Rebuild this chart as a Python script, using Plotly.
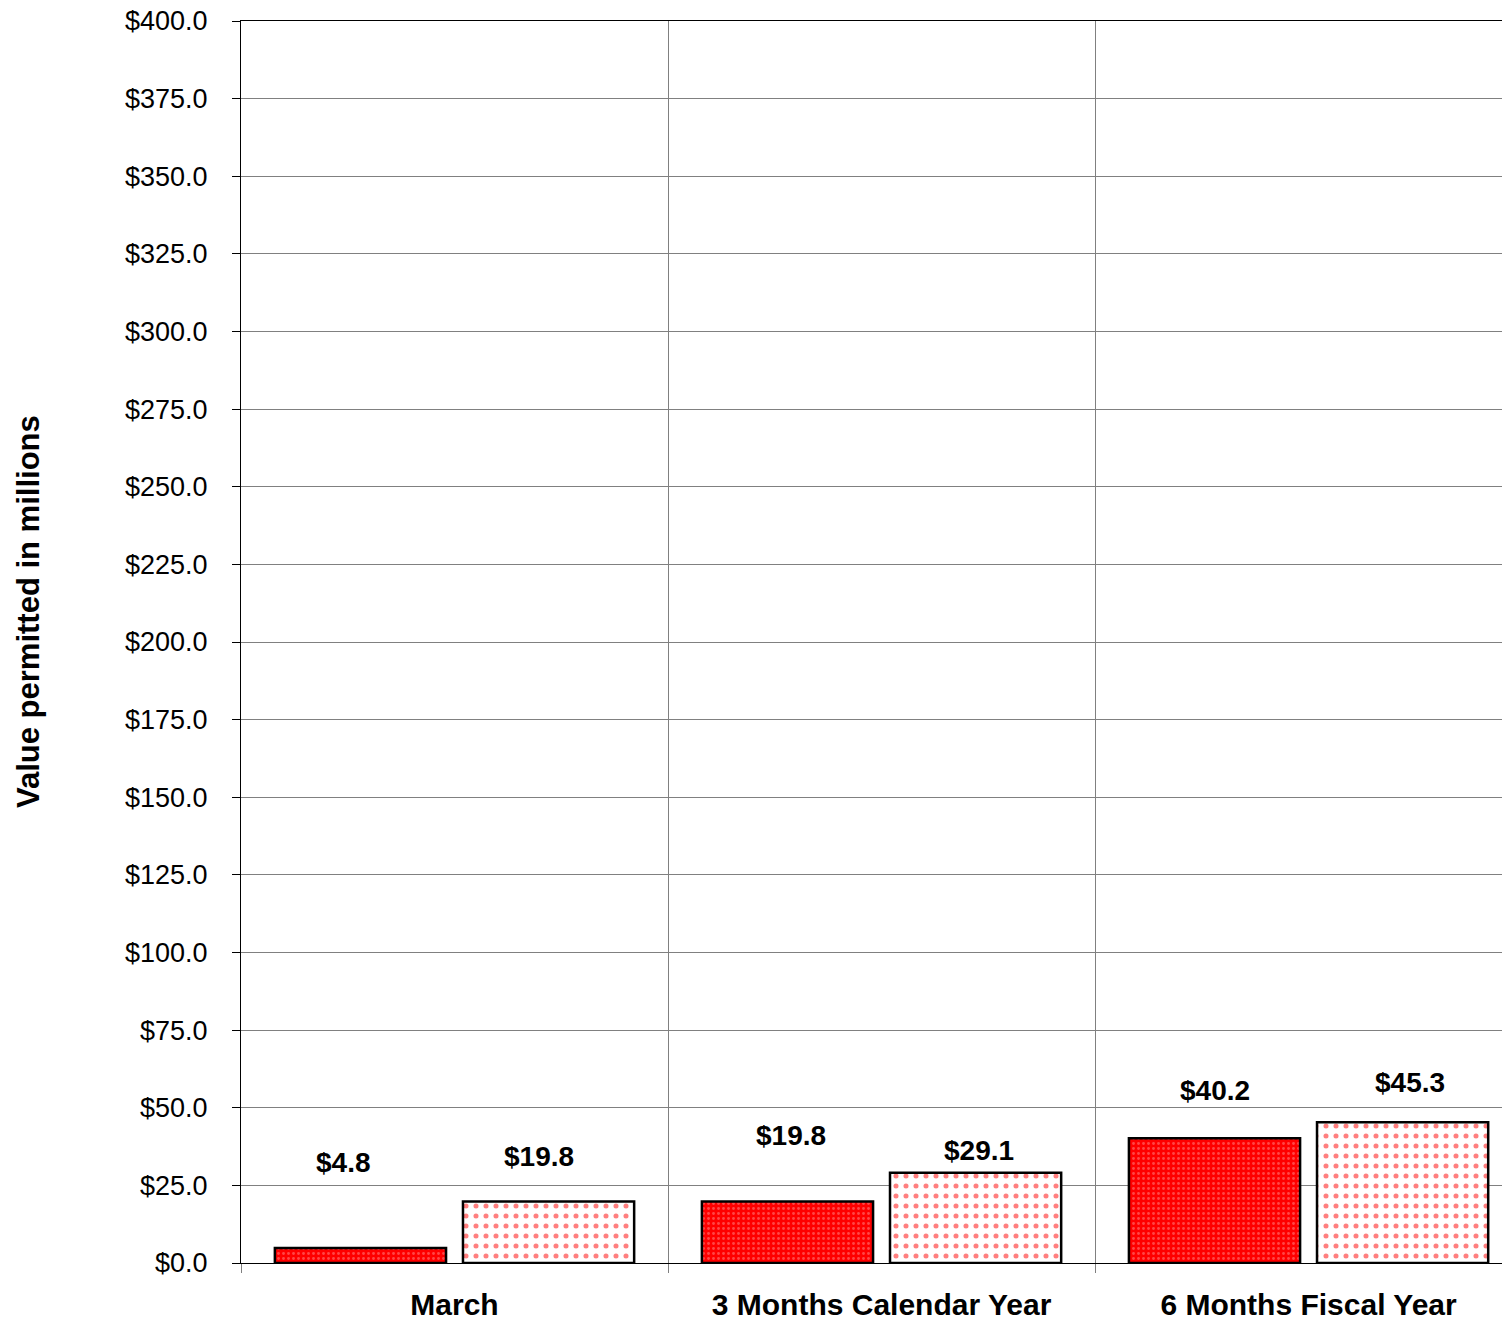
import plotly.graph_objects as go

categories = ["March", "3 Months Calendar Year", "6 Months Fiscal Year"]
current_values = [4.8, 19.8, 40.2]
prior_values = [19.8, 29.1, 45.3]
current_labels = ["$4.8", "$19.8", "$40.2"]
prior_labels = ["$19.8", "$29.1", "$45.3"]
y_tick_values = [i * 25 for i in range(17)]
y_tick_labels = ["$%.1f" % v for v in y_tick_values]
y_title = "Value permitted in millions"

# label offsets (pixels) - style
current_yshift = [86, 66, 48]
prior_yshift = [45, 22, 40]
current_xshift = [-111, -91, -94]
prior_xshift = [84, 97, 101]

FONT = "Liberation Sans, Arial, sans-serif"

fig = go.Figure()
fig.add_trace(go.Bar(
    name="Current", x=categories, y=current_values,
    marker=dict(color="#ff0000", line=dict(color="black", width=2.5),
                pattern=dict(shape=".", bgcolor="#ff0000", fgcolor="#ff9090",
                             size=5, solidity=0.25, fillmode="overlay")),
    offsetgroup="a", hoverinfo="skip",
))
fig.add_trace(go.Bar(
    name="Prior", x=categories, y=prior_values,
    marker=dict(color="white", line=dict(color="black", width=2.5),
                pattern=dict(shape=".", bgcolor="white", fgcolor="#ff0000",
                             size=10, solidity=0.2, fillmode="overlay")),
    offsetgroup="b", hoverinfo="skip",
))

annotations = []
for i, c in enumerate(categories):
    annotations.append(dict(x=c, y=current_values[i], xref="x", yref="y",
                            text="<b>" + current_labels[i] + "</b>", showarrow=False,
                            xshift=current_xshift[i], yshift=current_yshift[i],
                            font=dict(family=FONT, size=28, color="black")))
    annotations.append(dict(x=c, y=prior_values[i], xref="x", yref="y",
                            text="<b>" + prior_labels[i] + "</b>", showarrow=False,
                            xshift=prior_xshift[i], yshift=prior_yshift[i],
                            font=dict(family=FONT, size=28, color="black")))
annotations.append(dict(x=0, y=0.5, xref="paper", yref="paper",
                        text="<b>" + y_title + "</b>", textangle=-90, showarrow=False,
                        xanchor="center", yanchor="middle", xshift=-213, yshift=30,
                        font=dict(family=FONT, size=31, color="black")))

fig.update_layout(
    width=1502, height=1321,
    margin=dict(l=241, r=0, t=21, b=58),
    paper_bgcolor="white", plot_bgcolor="white",
    showlegend=False,
    barmode="group", bargap=0.119, bargroupgap=0.09,
    font=dict(family=FONT, color="black"),
    annotations=annotations,
)
fig.update_xaxes(
    type="category", range=[-0.5, 2.453], automargin=False,
    tickson="boundaries", ticks="outside", ticklen=9, tickcolor="#808080",
    showgrid=True, gridcolor="#808080", gridwidth=1,
    showline=True, linecolor="black", linewidth=1, mirror=True,
    tickfont=dict(family=FONT, size=30, color="black"),
    tickprefix="<b>", ticksuffix="</b>",
    ticklabelstandoff=15,
    zeroline=False,
)
fig.update_yaxes(
    range=[0, 400], tickmode="array", tickvals=y_tick_values, ticktext=y_tick_labels,
    automargin=False,
    ticks="outside", ticklen=8, tickcolor="black",
    ticklabelstandoff=19, ticklabeloverflow="allow",
    showgrid=True, gridcolor="#808080", gridwidth=1,
    showline=True, linecolor="black", linewidth=1,
    zeroline=False,
    tickfont=dict(family=FONT, size=27, color="black"),
)

page_css = (
    "var h=document.documentElement,b=document.body;"
    "h.style.margin='0';h.style.padding='0';b.style.margin='0';b.style.padding='0';"
    "h.style.overflow='hidden';b.style.overflow='hidden';"
    "h.style.height='1321px';b.style.height='1321px';"
)

fig.write_html("out.html", config={"displayModeBar": False}, post_script=page_css)
